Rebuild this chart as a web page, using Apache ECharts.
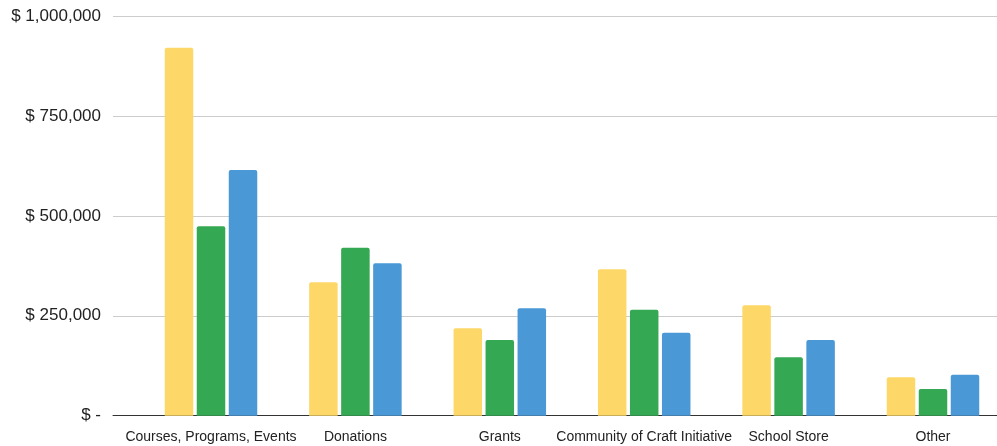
<!DOCTYPE html>
<html>
<head>
<meta charset="utf-8">
<script src="https://cdn.jsdelivr.net/npm/echarts@6/dist/echarts.min.js"></script>
<style>
html,body{margin:0;padding:0;background:#fff;}
#c{width:997px;height:446px;}
</style>
</head>
<body>
<div id="c"></div>
<script>
const categories = ['Courses, Programs, Events', 'Donations', 'Grants', 'Community of Craft Initiative', 'School Store', 'Other'];
const seriesYellow = [920700, 333700, 218700, 366300, 276200, 96100];
const seriesGreen  = [474000, 420300, 189400, 265200, 146100, 66800];
const seriesBlue   = [614700, 381300, 268700, 207700, 189400, 102600];
const yTickValues = [0, 250000, 500000, 750000, 1000000];
const yTickLabels = ['$ -', '$ 250,000', '$ 500,000', '$ 750,000', '$ 1,000,000'];

const font = 'Liberation Sans, Arial, sans-serif';
const chart = echarts.init(document.getElementById('c'), null, {renderer: 'canvas'});

function barSeries(name, data, color) {
  return {
    name: name, type: 'bar', xAxisIndex: 1, yAxisIndex: 1,
    data: data, barWidth: 28.5, barGap: '12.3%',
    itemStyle: {color: color, borderRadius: [2, 2, 0, 0]},
    emphasis: {disabled: true}
  };
}

chart.setOption({
  animation: false,
  grid: [
    {left: 113, right: 0, top: 16, bottom: 30.3, outerBoundsMode: 'none', containLabel: false},
    {left: 138.8, width: 866.4, top: 16, bottom: 30.3, outerBoundsMode: 'none', containLabel: false}
  ],
  xAxis: [
    {type: 'category', gridIndex: 0, data: categories,
     axisLine: {show: true, lineStyle: {color: '#333', width: 1}},
     axisTick: {show: false}, axisLabel: {show: false}, splitLine: {show: false}},
    {type: 'category', gridIndex: 1, data: categories,
     axisLine: {show: false}, axisTick: {show: false}, splitLine: {show: false},
     axisLabel: {show: true, interval: 0, margin: 14, color: '#222', fontSize: 14, fontFamily: font}}
  ],
  yAxis: [
    {type: 'value', gridIndex: 0, min: 0, max: 1000000, interval: 250000,
     axisLine: {show: false}, axisTick: {show: false},
     splitLine: {show: true, lineStyle: {color: '#cccccc', width: 1}},
     axisLabel: {show: true, margin: 12, color: '#222', fontSize: 17, fontFamily: font,
       formatter: function (v) { const i = yTickValues.indexOf(v); return i >= 0 ? yTickLabels[i] : ''; }}},
    {type: 'value', gridIndex: 1, min: 0, max: 1000000, interval: 250000,
     axisLine: {show: false}, axisTick: {show: false}, splitLine: {show: false}, axisLabel: {show: false}}
  ],
  series: [
    barSeries('Series 1', seriesYellow, '#FDD868'),
    barSeries('Series 2', seriesGreen, '#34A853'),
    barSeries('Series 3', seriesBlue, '#4A99D6')
  ]
});
</script>
</body>
</html>
